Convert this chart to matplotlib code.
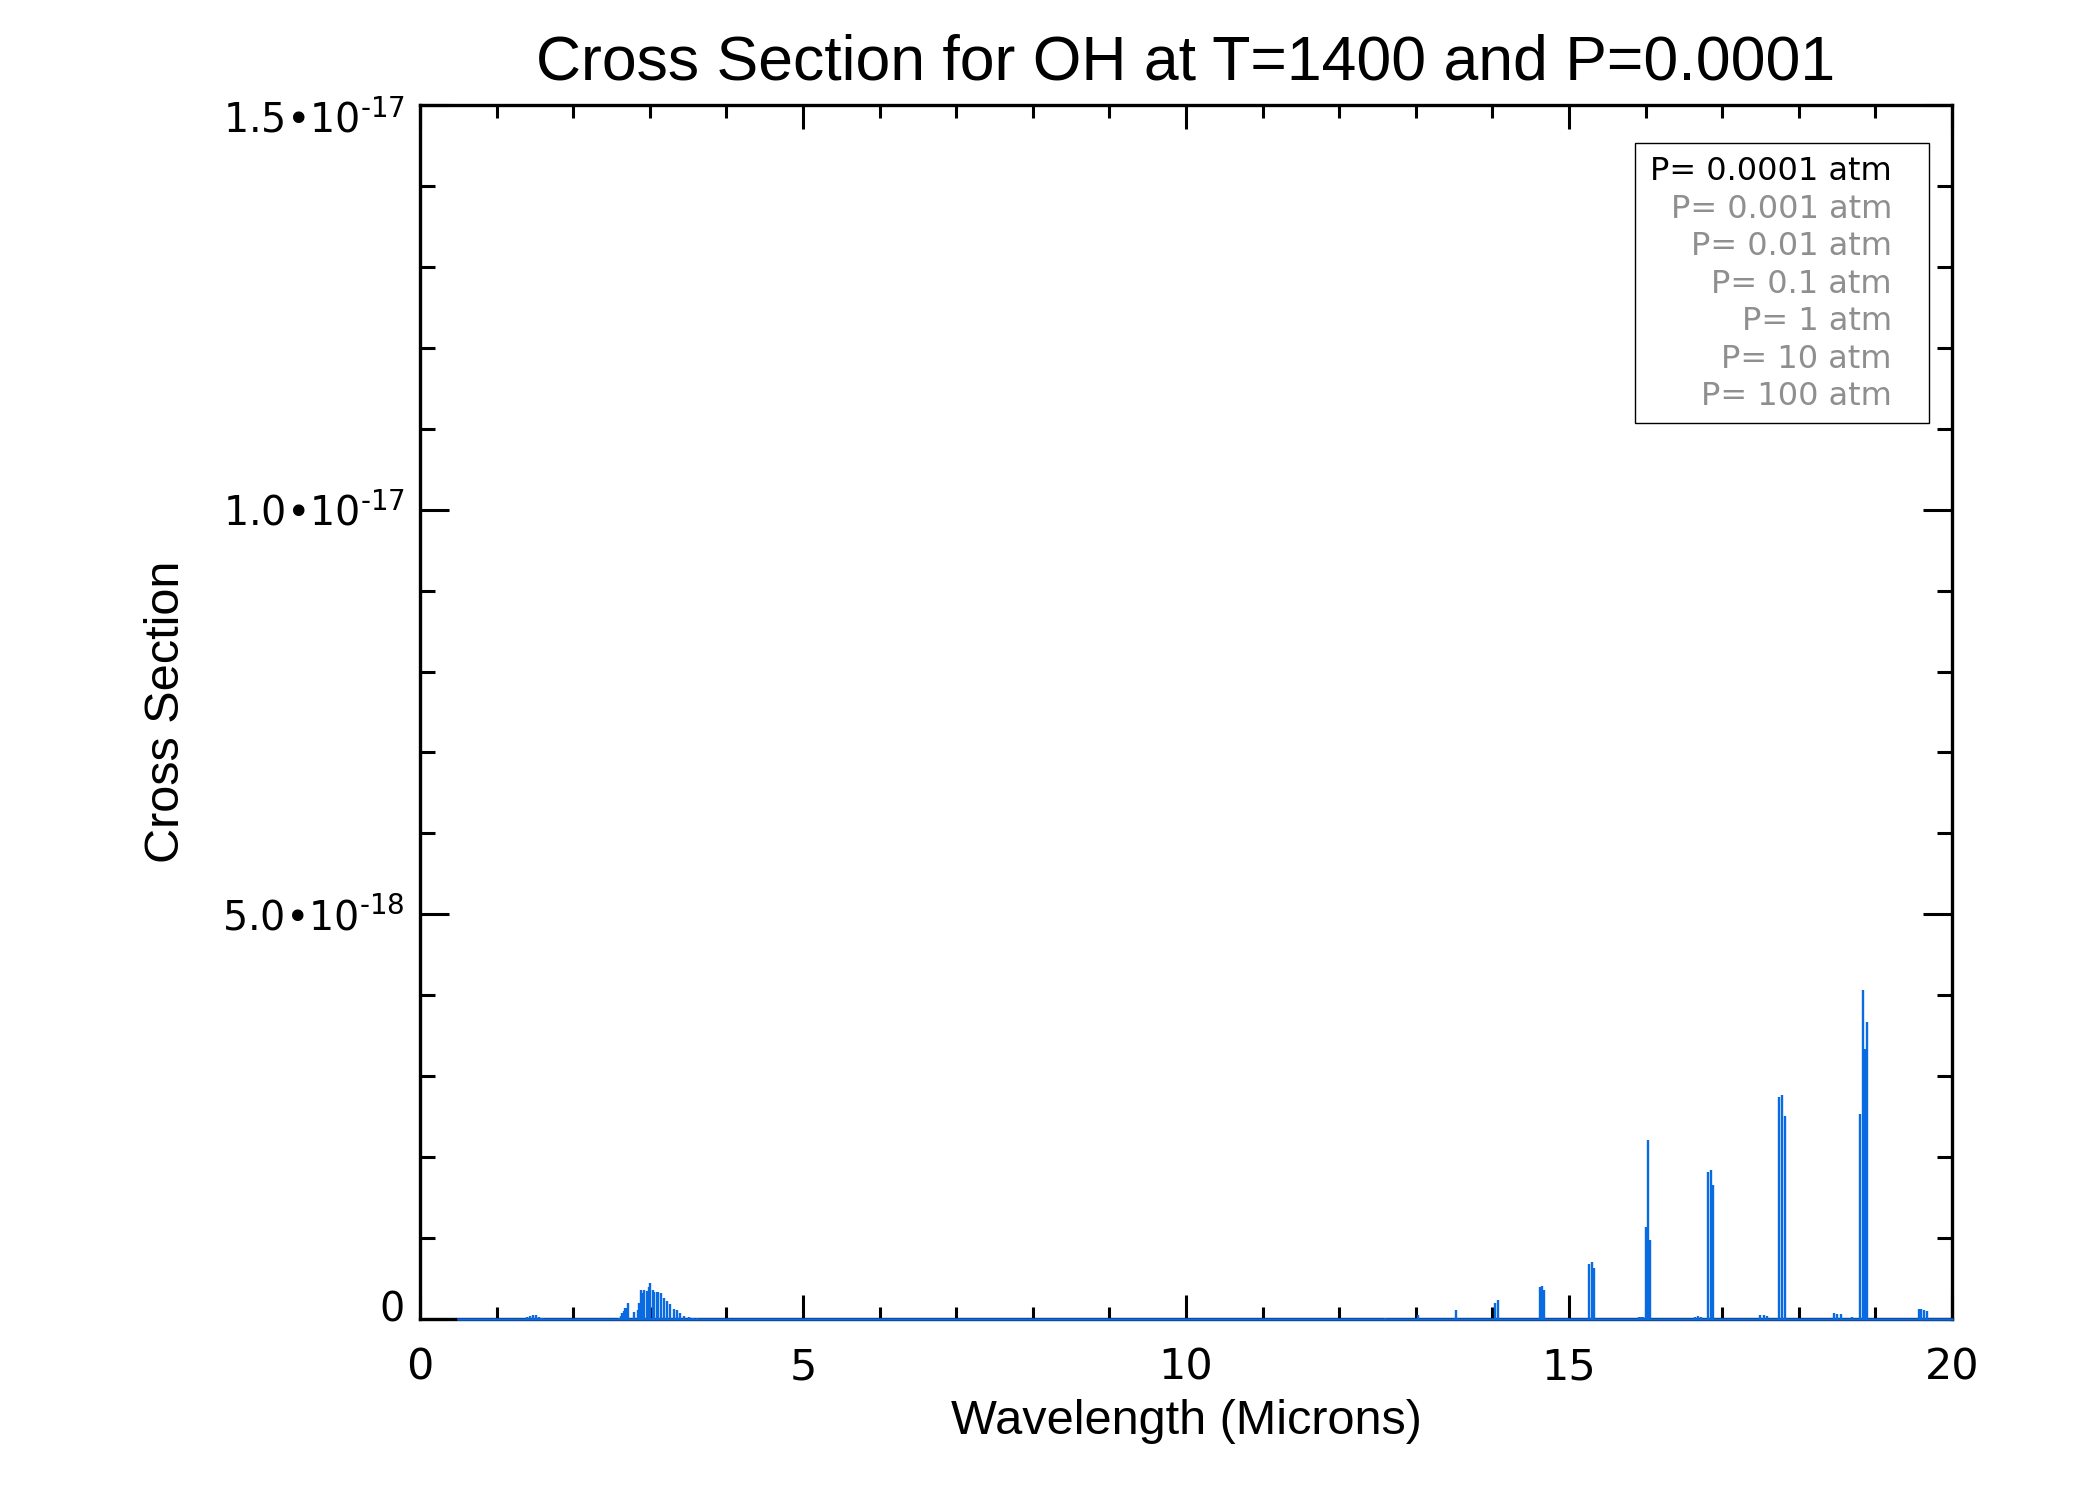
import matplotlib
matplotlib.use("Agg")
import matplotlib.pyplot as plt
import numpy as np
from matplotlib.ticker import MultipleLocator, FixedLocator
from matplotlib.patches import Rectangle
from matplotlib.transforms import ScaledTranslation

plt.rcParams['font.family'] = ['Liberation Sans', 'DejaVu Sans']
plt.rcParams['mathtext.fontset'] = 'dejavusans'

# ---------------- data ----------------
title = "Cross Section for OH at T=1400 and P=0.0001"
xlabel = "Wavelength (Microns)"
ylabel = "Cross Section"

# wavelength of spectral lines (microns) and peak cross sections (units of 1e-18)
line_wl = [1.40, 1.44, 1.48, 1.52, 1.56, 1.59,
           2.60, 2.62, 2.64, 2.66, 2.68, 2.69, 2.72, 2.79, 2.84, 2.855, 2.88, 2.91,
           2.93, 2.96, 2.99, 3.00, 3.04, 3.06, 3.09, 3.11, 3.14, 3.18, 3.23, 3.27,
           3.32, 3.35, 3.40, 3.45, 3.51, 3.56, 3.61, 3.67,
           12.60, 13.03, 13.52, 14.03, 14.07,
           14.62, 14.65, 14.68,
           15.26, 15.30, 15.33,
           15.91, 15.94, 15.97, 16.00, 16.03, 16.06,
           16.65, 16.69, 16.72, 16.81, 16.85, 16.88,
           17.50, 17.54, 17.58, 17.74, 17.78, 17.82,
           18.46, 18.50, 18.55, 18.70, 18.80, 18.84, 18.86, 18.89,
           19.57, 19.60, 19.64, 19.67]
line_xs = [0.02, 0.04, 0.05, 0.05, 0.03, 0.015,
           0.01, 0.04, 0.07, 0.10, 0.13, 0.14, 0.20, 0.09, 0.11, 0.20, 0.36, 0.32,
           0.36, 0.34, 0.40, 0.45, 0.36, 0.33, 0.33, 0.33, 0.32, 0.26, 0.22, 0.18,
           0.12, 0.11, 0.07, 0.04, 0.025, 0.016, 0.008, 0.004,
           0.015, 0.05, 0.11, 0.20, 0.23,
           0.40, 0.41, 0.36,
           0.68, 0.70, 0.63,
           0.02, 0.02, 0.02, 1.14, 2.21, 0.98,
           0.03, 0.04, 0.03, 1.82, 1.84, 1.65,
           0.05, 0.05, 0.04, 2.74, 2.77, 2.51,
           0.07, 0.06, 0.06, 0.03, 2.53, 4.06, 3.33, 3.67,
           0.12, 0.12, 0.11, 0.10]
wl_range = [0.5, 20.0]

legend_labels = ["P= 0.0001 atm", "P= 0.001 atm", "P= 0.01 atm", "P= 0.1 atm",
                 "P= 1 atm", "P= 10 atm", "P= 100 atm"]
legend_colors = ["black"] + ["#8f8f8f"] * 6

xticks = [0, 5, 10, 15, 20]
xticklabels = ["0", "5", "10", "15", "20"]
yticks = [0, 5e-18, 1e-17, 1.5e-17]
yticklabels = ["0", r"5.0•10$^{\text{-}18}$", r"1.0•10$^{\text{-}17}$", r"1.5•10$^{\text{-}17}$"]

# ---------------- figure ----------------
fig = plt.figure(figsize=(21, 15), dpi=100)
ax = fig.add_axes([0.2, 0.1207, 0.7295, 0.8093])

blue = "#0a6ae2"
scale = 1e-18
ax.vlines(line_wl, 0, np.array(line_xs) * scale, colors=blue, lw=1.7, zorder=3)
ax.plot(wl_range, [0, 0], color=blue, lw=1.8, zorder=3, clip_on=False)

ax.set_xlim(0, 20)
ax.set_ylim(0, 1.5e-17)

for s in ax.spines.values():
    s.set_linewidth(2.4)

ax.xaxis.set_major_locator(FixedLocator(xticks))
ax.xaxis.set_minor_locator(MultipleLocator(1))
ax.yaxis.set_major_locator(FixedLocator(yticks))
ax.yaxis.set_minor_locator(MultipleLocator(1e-18))
ax.set_xticklabels(xticklabels)
ax.set_yticklabels(yticklabels)

ax.tick_params(axis='both', which='both', direction='in', top=True, right=True, width=2.2)
ax.tick_params(axis='x', which='major', length=17, pad=20, labelsize=31)
ax.tick_params(axis='x', which='minor', length=9)
ax.tick_params(axis='y', which='major', length=21, pad=11, labelsize=28.5)
ax.tick_params(axis='y', which='minor', length=11)

for lab in ax.get_xticklabels() + ax.get_yticklabels():
    lab.set_fontfamily(['DejaVu Sans'])

ylabs = ax.get_yticklabels()
ylabs[0].set_transform(ylabs[0].get_transform() + ScaledTranslation(0, 0.13, fig.dpi_scale_trans))
ylabs[-1].set_transform(ylabs[-1].get_transform() + ScaledTranslation(0, -0.12, fig.dpi_scale_trans))

ax.set_title(title, fontsize=45, pad=18)
ax.set_xlabel(xlabel, fontsize=35)
ax.xaxis.set_label_coords(0.5, -0.066)
ax.set_ylabel(ylabel, fontsize=35)
ax.yaxis.set_label_coords(-0.151, 0.5)

# legend box
ax.add_patch(Rectangle((0.7931, 0.738), 0.985 - 0.7931, 0.9687 - 0.738,
                       transform=ax.transAxes, fill=False, edgecolor='black', lw=1.0, zorder=4))
for i, (lab, col) in enumerate(zip(legend_labels, legend_colors)):
    ax.text(0.9608, 0.9382 - i * 0.03089, lab, transform=ax.transAxes, ha='right',
            va='baseline', fontsize=23, color=col, family=['DejaVu Sans'], zorder=5)

fig.savefig("out.png", dpi=100, facecolor='white')
